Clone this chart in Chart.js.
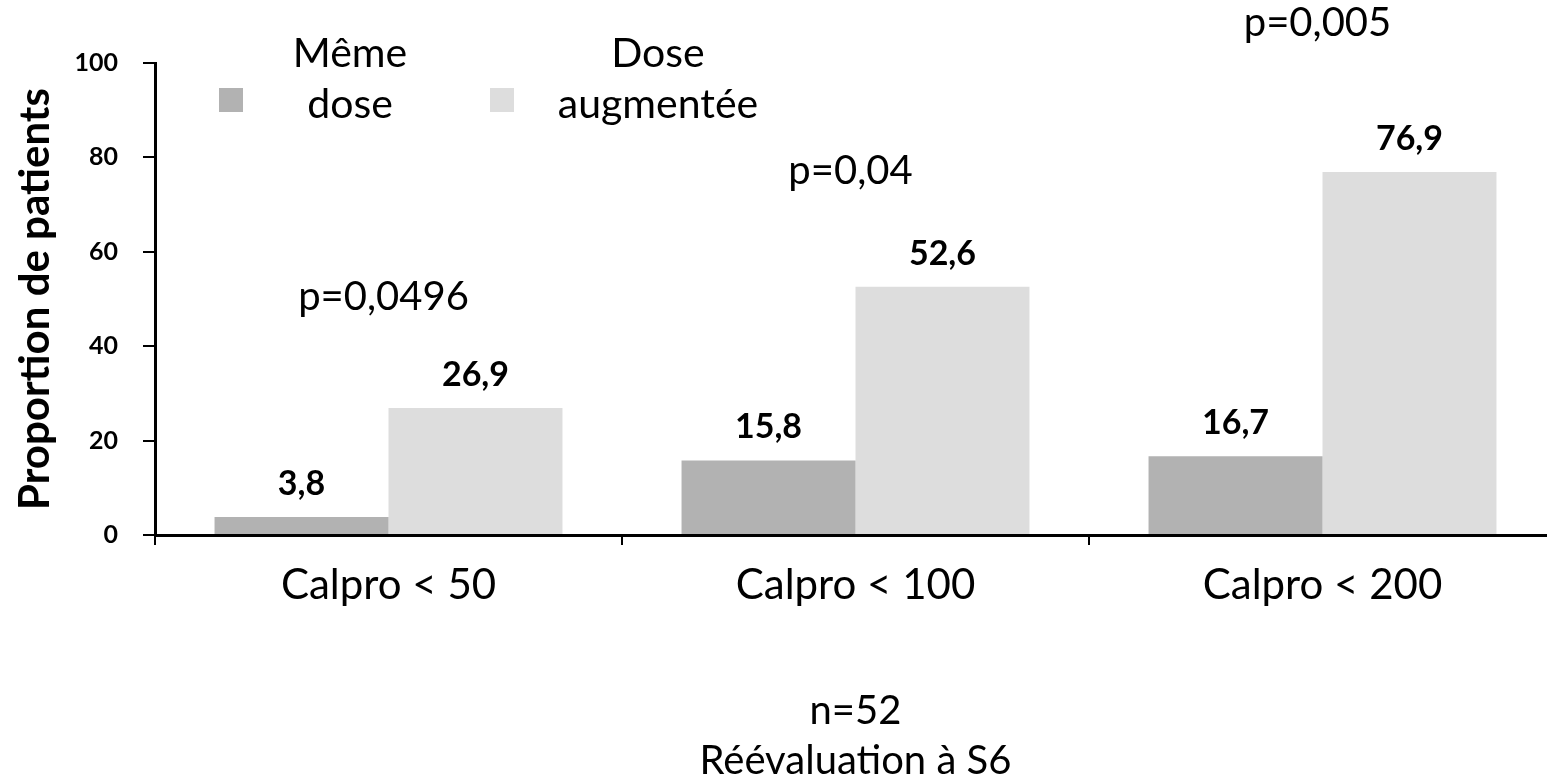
<!DOCTYPE html>
<html>
<head>
<meta charset="utf-8">
<script src="https://cdn.jsdelivr.net/npm/chart.js@4.4.0/dist/chart.umd.min.js"></script>
<style>
  body { margin: 0; background: #fff; overflow: hidden; }
  #wrap { width: 1556px; height: 780px; }
</style>
</head>
<body>
<div id="wrap"><canvas id="calpro-chart"></canvas></div>
<script>
var categories = ["Calpro < 50", "Calpro < 100", "Calpro < 200"];
var memeDose = [3.8, 15.8, 16.7];
var doseAugmentee = [26.9, 52.6, 76.9];
var yTicks = [0, 20, 40, 60, 80, 100];
var pValues = ["p=0,0496", "p=0,04", "p=0,005"];
var pLevels = [50.5, 77, 108.5];   // height (in %) where each p-value sits

var FONT = "Lato, 'Open Sans', sans-serif";

function fmt(v) {
  return v.toFixed(1).replace(".", ",");
}

// draws the value labels, p-values and the two-line legend
var extrasPlugin = {
  id: "extras",
  afterDatasetsDraw: function(chart) {
    var ctx = chart.ctx;
    var x = chart.scales.x, y = chart.scales.y;
    ctx.save();
    ctx.fillStyle = "#000";
    ctx.textAlign = "center";
    ctx.textBaseline = "middle";

    ctx.font = "bold 34px " + FONT;
    chart.data.datasets.forEach(function(ds, di) {
      chart.getDatasetMeta(di).data.forEach(function(bar, i) {
        ctx.fillText(fmt(ds.data[i]), bar.x, bar.y - 33);
      });
    });

    ctx.font = "40px " + FONT;
    pValues.forEach(function(txt, i) {
      ctx.fillText(txt, x.getPixelForValue(i) - 5, y.getPixelForValue(pLevels[i]));
    });

    // legend
    var legend = [
      { box: 231, text: 350 },
      { box: 502, text: 658 }
    ];
    ctx.font = "41px " + FONT;
    chart.data.datasets.forEach(function(ds, di) {
      var l = legend[di];
      ctx.fillStyle = ds.backgroundColor;
      ctx.fillRect(l.box - 12, 88, 24, 24);
      ctx.fillStyle = "#000";
      var words = ds.label.split(" ");
      ctx.fillText(words[0], l.text, 54);
      ctx.fillText(words.slice(1).join(" "), l.text, 105);
    });
    ctx.restore();
  }
};

var ctx = document.getElementById("calpro-chart").getContext("2d");
var calproChart = new Chart(ctx, {
  type: "bar",
  data: {
    labels: categories,
    datasets: [{
      label: "Même dose",
      backgroundColor: "#b2b2b2",
      data: memeDose
    }, {
      label: "Dose augmentée",
      backgroundColor: "#dddddd",
      data: doseAugmentee
    }]
  },
  plugins: [extrasPlugin],
  options: {
    responsive: true,
    maintainAspectRatio: false,
    animation: false,
    categoryPercentage: 0.745,
    barPercentage: 1.0,
    layout: { padding: { top: 63, right: 0, left: 0, bottom: 0 } },
    plugins: {
      legend: { display: false },
      tooltip: { enabled: false }
    },
    scales: {
      x: {
        afterFit: function(axis) { axis.height = 245; },
        grid: { display: true, drawOnChartArea: false, offset: true, color: "#000", lineWidth: 2, tickLength: 10 },
        border: { color: "#000", width: 3 },
        ticks: { color: "#000", padding: 15, font: { family: FONT, size: 42 } },
        title: {
          display: true,
          text: ["n=52", "Réévaluation à S6"],
          color: "#000",
          font: { family: FONT, size: 40, lineHeight: 1.25 },
          padding: { top: 0, bottom: -6 }
        }
      },
      y: {
        min: 0,
        max: 100,
        afterBuildTicks: function(axis) {
          axis.ticks = yTicks.map(function(v) { return { value: v }; });
        },
        afterFit: function(axis) { axis.width = 155; },
        grid: { display: true, drawOnChartArea: false, color: "#000", lineWidth: 2, tickLength: 12 },
        border: { color: "#000", width: 3 },
        ticks: { color: "#000", padding: 25, font: { family: FONT, size: 25, weight: "bold" } },
        title: {
          display: true,
          text: "Proportion de patients",
          color: "#000",
          font: { family: FONT, size: 42, weight: "bold" },
          padding: { top: 10, bottom: 0 }
        }
      }
    }
  }
});
</script>
</body>
</html>
